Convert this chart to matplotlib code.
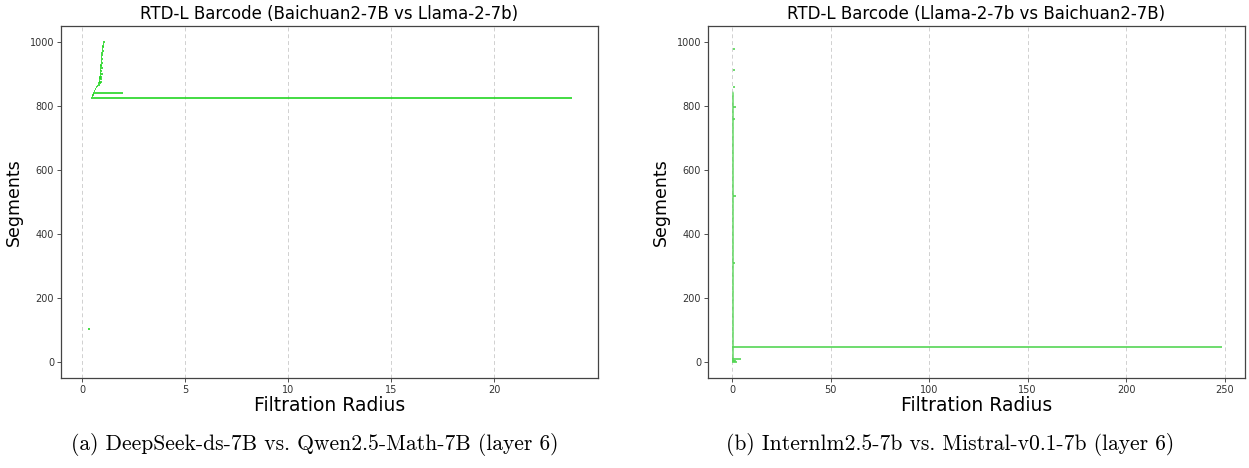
import numpy as np
import matplotlib
matplotlib.use("Agg")
import matplotlib.pyplot as plt

# ---- left panel: Baichuan2-7B vs Llama-2-7b (visible bars only) ----
left_y = [103, 823, 830, 834, 838, 841, 846, 852, 857, 862, 866, 870, 874,
          878, 882, 886, 890, 894, 898, 903, 908, 913, 918, 923, 928, 934,
          940, 946, 952, 958, 964, 970, 976, 982, 988, 994, 998]
left_birth = [0.30, 0.45, 0.47, 0.50, 0.53, 0.55, 0.58, 0.62, 0.66, 0.72,
              0.78, 0.80, 0.81, 0.82, 0.82, 0.83, 0.84, 0.85, 0.85, 0.86,
              0.87, 0.87, 0.88, 0.88, 0.89, 0.90, 0.90, 0.91, 0.92, 0.93,
              0.94, 0.95, 0.96, 0.98, 0.99, 1.01, 1.03]
left_death = [0.38, 23.80, 0.55, 0.58, 0.60, 2.00, 0.64, 0.68, 0.72, 0.80,
              0.86, 0.90, 0.98, 0.88, 0.95, 0.90, 0.96, 0.92, 1.00, 0.93,
              0.98, 0.94, 1.02, 0.95, 0.98, 1.00, 0.97, 1.03, 0.99, 1.04,
              1.00, 1.05, 1.02, 1.06, 1.05, 1.08, 1.10]

# ---- right panel: Llama-2-7b vs Baichuan2-7B ----
# dense block of short bars near zero (segment index range, birth, death)
right_block = [(2, 843, 0.0, 0.6)]
right_y = [0, 2, 4, 9, 46, 310, 518, 760, 795, 860, 913, 978]
right_birth = [0.0, 0.0, 0.0, 0.0, 0.0, 0.3, 0.3, 0.3, 0.3, 0.3, 0.3, 0.3]
right_death = [2.5, 2.0, 1.5, 4.4, 248.6, 1.2, 1.9, 1.2, 1.9, 1.3, 1.1, 1.2]

titles = ["RTD-L Barcode (Baichuan2-7B vs Llama-2-7b)",
          "RTD-L Barcode (Llama-2-7b vs Baichuan2-7B)"]
captions = ["(a) DeepSeek-ds-7B vs. Qwen2.5-Math-7B (layer 6)",
            "(b) Internlm2.5-7b vs. Mistral-v0.1-7b (layer 6)"]

fig = plt.figure(figsize=(12.49, 4.68), dpi=100)
ax1 = fig.add_axes([61 / 1249, 90 / 468, 537 / 1249, 352 / 468])
ax2 = fig.add_axes([708 / 1249, 90 / 468, 537 / 1249, 352 / 468])

ax1.hlines(left_y, left_birth, left_death, color="#22d622", linewidth=1.2)
ax1.set_xlim(-1.02, 25.05)
ax1.set_ylim(-50, 1049)
ax1.set_xticks([0, 5, 10, 15, 20])

for start, end, b, d in right_block:
    idx = np.arange(start, end)
    ax2.hlines(idx, b, d, color="#55d655", linewidth=0.35, alpha=0.7)
ax2.hlines(right_y, right_birth, right_death, color="#55d655", linewidth=1.2)
ax2.set_xlim(-12.4, 260.4)
ax2.set_ylim(-50, 1049)
ax2.set_xticks([0, 50, 100, 150, 200, 250])

for ax, title, cap in zip([ax1, ax2], titles, captions):
    ax.set_title(title, fontsize=12, pad=5)
    ax.set_xlabel("Filtration Radius", fontsize=13.5, labelpad=1)
    ax.set_ylabel("Segments", fontsize=12.5, labelpad=5)
    ax.set_yticks([0, 200, 400, 600, 800, 1000])
    ax.tick_params(labelsize=7, length=3, width=0.6, pad=2, colors="#333333")
    ax.grid(axis="x", linestyle=(0, (4, 3)), color="#d0d0d0", linewidth=0.7)
    ax.set_axisbelow(True)
    for sp in ax.spines.values():
        sp.set_color("#444444")
        sp.set_linewidth(0.9)

fig.text(315 / 1249, 1 - 445 / 468, captions[0], family="cmr10",
         fontsize=15.5, ha="center", va="center")
fig.text(950 / 1249, 1 - 445 / 468, captions[1], family="cmr10",
         fontsize=15.5, ha="center", va="center")

fig.savefig("out.png", dpi=100)
